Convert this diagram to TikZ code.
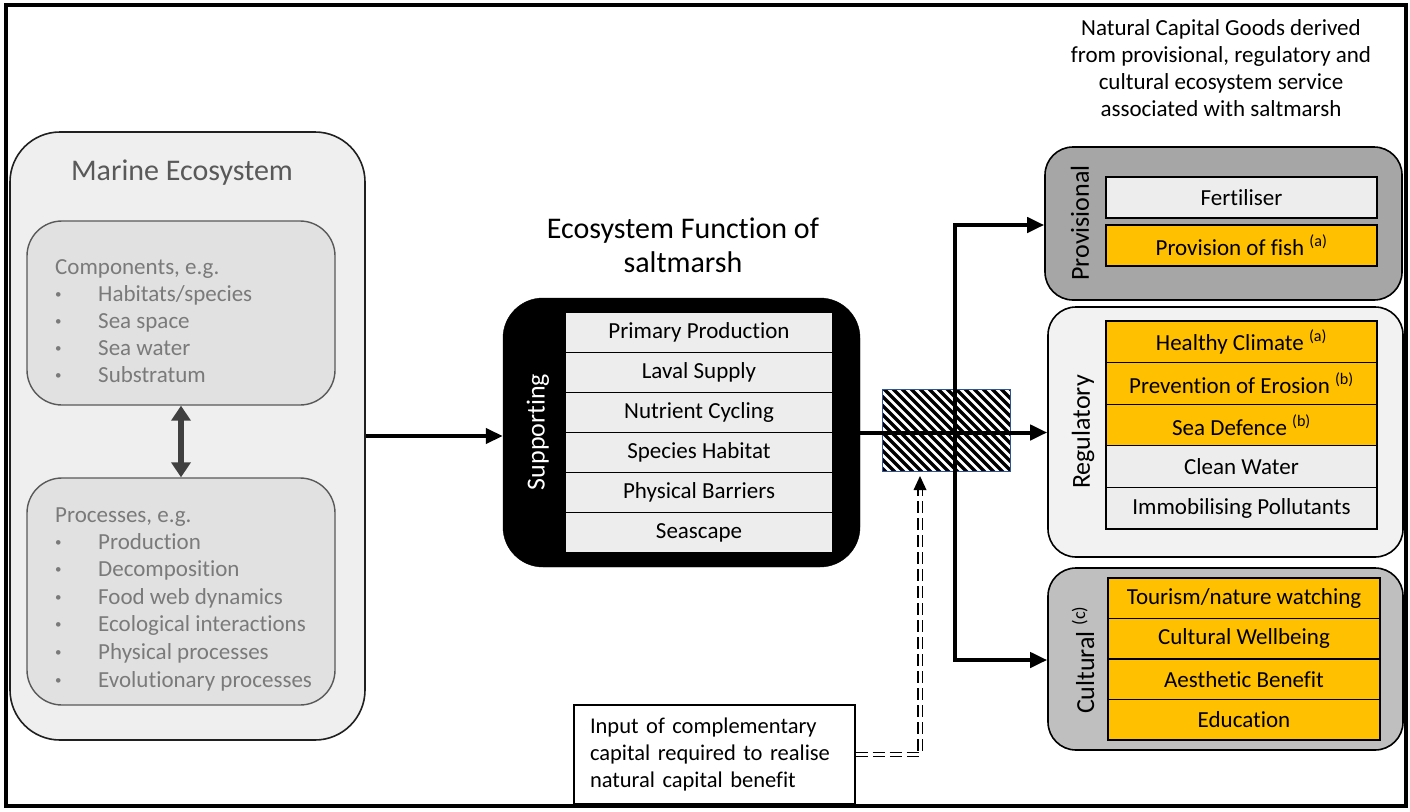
\documentclass[tikz,border=0pt]{standalone}
\usepackage{fontspec}
\setmainfont{Carlito}[Ligatures=CommonOff]
\usetikzlibrary{arrows.meta}

\newcommand{\setfs}[1]{\fontsize{#1pt}{1.22\dimexpr #1pt\relax}\selectfont}
\newcommand{\smallbullet}{\raisebox{3pt}{\fontsize{13pt}{13pt}\selectfont\textbullet}}

\definecolor{marinefill}{HTML}{EFEFEF}
\definecolor{marinedraw}{HTML}{202020}
\definecolor{innerfill}{HTML}{E2E1E1}
\definecolor{innerdraw}{HTML}{595959}
\definecolor{listgray}{HTML}{7A7A7A}
\definecolor{titlegray}{HTML}{595959}
\definecolor{rowgray}{HTML}{EDEDED}
\definecolor{gold}{HTML}{FFC000}
\definecolor{provfill}{HTML}{A6A6A6}
\definecolor{regfill}{HTML}{F2F2F2}
\definecolor{cultfill}{HTML}{BFBFBF}
\definecolor{hatchedge}{HTML}{2F5597}
\definecolor{linkgray}{HTML}{404040}

\begin{document}
\begin{tikzpicture}[x=1pt,y=-1pt,
  panel/.style={draw=black, line width=1.6pt, rounded corners=28pt, inner sep=0pt},
  innerbox/.style={draw=innerdraw, fill=innerfill, line width=1.4pt, rounded corners=35pt,
    minimum width=308pt, inner sep=0pt},
  listtxt/.style={text=listgray, font=\setfs{23}, inner sep=0pt, anchor=base west},
  suprow/.style={draw=black, fill=rowgray, line width=1.2pt, inner sep=0pt,
    minimum width=268pt, minimum height=40.2pt, font=\setfs{23}},
  goodrow/.style={draw=black, line width=1.3pt, inner sep=0pt,
    minimum width=271pt, font=\setfs{23}},
  sidelab/.style={rotate=90, font=\setfs{26}, inner sep=0pt},
  bigarrow/.style={line width=4pt, -{Triangle[length=17pt,width=15pt]}},
  dbl/.style={draw=black, double=white, double distance=3pt, line width=1.3pt,
    dash pattern=on 12pt off 5pt}
]
\useasboundingbox (0,0) rectangle (1410,811);

% frame
\draw[line width=4pt] (6,5) rectangle (1406,806);

% ---------- marine ecosystem ----------
\node[draw=marinedraw, fill=marinefill, line width=1.6pt, rounded corners=50pt,
  minimum width=355pt, minimum height=608pt, inner sep=0pt] (marine) at (187.5,436) {};
\node[text=titlegray, font=\setfs{30}] (marinetitle) at (182,173) {Marine Ecosystem};

\node[innerbox, minimum height=184pt] (comp) at (181,313) {};
\node[listtxt] (comphead) at (55,274) {Components, e.g.};
\foreach \t [count=\i] in {Habitats/species, Sea space, Sea water, Substratum} {
  \node[listtxt] (cbul\i) at (55,301+27.3*\i-27.3) {\smallbullet};
  \node[listtxt] (citem\i) at (98,301+27.3*\i-27.3) {\t};
}

\node[innerbox, minimum height=227pt] (proc) at (181,591.5) {};
\node[listtxt] (prochead) at (55,522) {Processes, e.g.};
\foreach \t [count=\i] in {Production, Decomposition, Food web dynamics,
    Ecological interactions, Physical processes, Evolutionary processes} {
  \node[listtxt] (pbul\i) at (55,549+27.6*\i-27.6) {\smallbullet};
  \node[listtxt] (pitem\i) at (98,549+27.6*\i-27.6) {\t};
}

\draw[draw=linkgray, line width=6pt,
  {Triangle[length=15pt,width=19pt]}-{Triangle[length=15pt,width=19pt]}]
  (comp.south) -- (proc.north);

% ---------- supporting functions ----------
\node[align=center, font=\fontsize{30pt}{34pt}\selectfont] (supptitle) at (683,245)
  {Ecosystem Function of\\ saltmarsh};
\node[draw=black, fill=black, rounded corners=40pt, minimum width=357pt,
  minimum height=269pt, inner sep=0pt] (supp) at (681.5,432.5) {};
\node[sidelab, text=white] (supplab) at (538,432) {Supporting};
\foreach \t [count=\i] in {Primary Production, Laval Supply, Nutrient Cycling,
    Species Habitat, Physical Barriers, Seascape} {
  \node[suprow] (s\i) at (699,332.1+40.17*\i-40.17) {\t};
}

\draw[bigarrow] (marine.east) -- (marine.east -| supp.west);

% ---------- goods panels ----------
\node[align=center, font=\fontsize{23pt}{27pt}\selectfont] (goodstitle) at (1221,68.5)
  {Natural Capital Goods derived\\ from provisional, regulatory and\\
   cultural ecosystem service\\ associated with saltmarsh};

\node[panel, fill=provfill, minimum width=357pt, minimum height=153pt] (prov) at (1223.5,223.5) {};
\node[sidelab] (provlab) at (1080,223) {Provisional};
\node[goodrow, fill=rowgray, minimum height=41pt] (g1) at (1241.5,197.5) {Fertiliser};
\node[goodrow, fill=gold, minimum height=41pt] (g2) at (1241.5,245.5)
  {Provision of fish \textsuperscript{(a)}};

\node[panel, fill=regfill, minimum width=355pt, minimum height=250pt] (reg) at (1225.5,432) {};
\node[sidelab] (reglab) at (1083,432) {Regulatory};
\node[goodrow, fill=gold, minimum height=41.6pt] (r1) at (1241.5,341.8) {Healthy Climate \textsuperscript{(a)}};
\node[goodrow, fill=gold, minimum height=41.6pt] (r2) at (1241.5,383.4) {Prevention of Erosion \textsuperscript{(b)}};
\node[goodrow, fill=gold, minimum height=41.6pt] (r3) at (1241.5,425.0) {Sea Defence \textsuperscript{(b)}};
\node[goodrow, fill=rowgray, minimum height=41.6pt] (r4) at (1241.5,466.6) {Clean Water};
\node[goodrow, fill=rowgray, minimum height=41.6pt] (r5) at (1241.5,508.2) {Immobilising Pollutants};

\node[panel, fill=cultfill, minimum width=355pt, minimum height=182pt] (cult) at (1225.5,659) {};
\node[sidelab] (cultlab) at (1083,660) {Cultural \textsuperscript{(c)}};
\foreach \t [count=\i] in {Tourism/nature watching, Cultural Wellbeing,
    Aesthetic Benefit, Education} {
  \node[goodrow, fill=gold, minimum width=272pt, minimum height=40.5pt]
    (c\i) at (1244,598.25+40.5*\i-40.5) {\t};
}

% ---------- hatched exchange box and links ----------
\node[minimum width=127pt, minimum height=81pt, inner sep=0pt] (hatch) at (946.5,430.5) {};
\begin{scope}
  \clip (hatch.south west) rectangle (hatch.north east);
  \foreach \k in {0,...,25}
    \draw[line width=3.2pt] (800+9*\k,386) -- ++(90,90);
\end{scope}
\draw[draw=hatchedge, line width=0.8pt] (hatch.south west) rectangle (hatch.north east);

\coordinate (jt) at (955,225);
\coordinate (jb) at (955,660);
\draw[bigarrow] (supp.east) -- (supp.east -| reg.west);
\draw[bigarrow, line join=miter] (jb) -- (jt) -- (jt -| prov.west);
\draw[bigarrow, line join=miter] (jt) -- (jb) -- (jb -| cult.west);

% ---------- complementary capital input ----------
\node[draw=black, line width=1.3pt, minimum width=281pt, minimum height=99pt,
  text width=249pt, inner xsep=16pt, inner ysep=0pt, align=left,
  font=\fontsize{22.5pt}{27pt}\selectfont] (input) at (714.5,754.5)
  {Input of complementary\\ capital required to realise\\ natural capital benefit};

\coordinate (dtip) at (920,476);
\coordinate (dbase) at (920,490);
\draw[dbl] (input.east) -- (input.east -| dtip) -- (dbase);
\fill (dtip) -- ++(-6.5,14) -- ++(13,0) -- cycle;

\end{tikzpicture}
\end{document}
